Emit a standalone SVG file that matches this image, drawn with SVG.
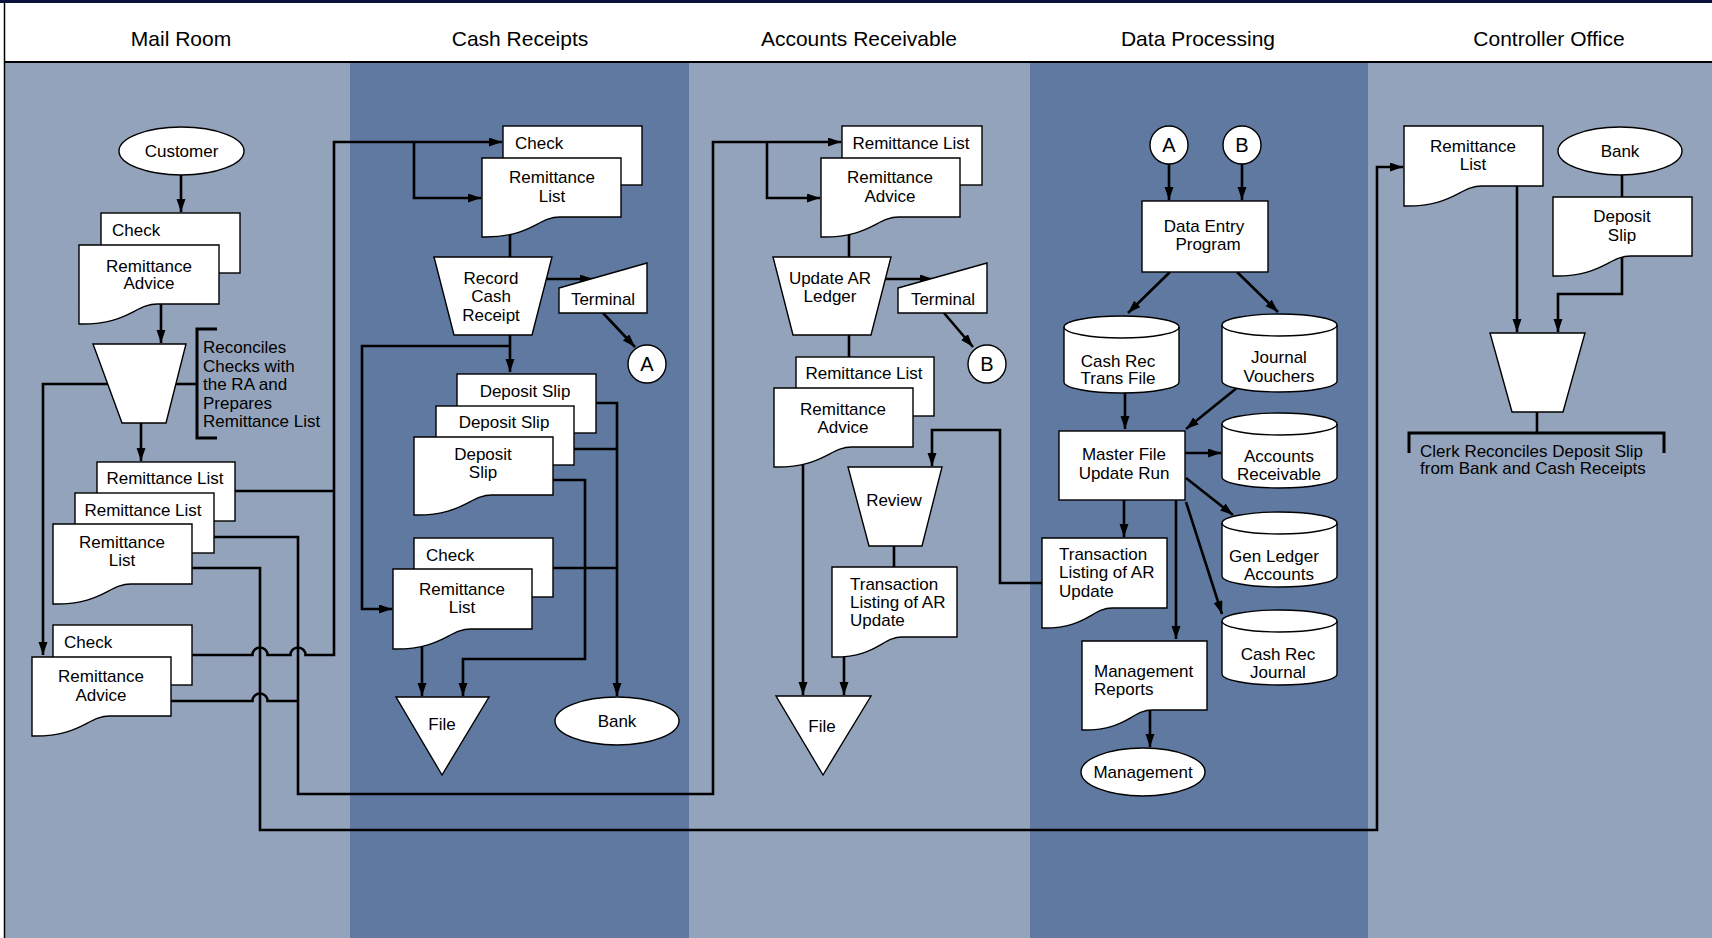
<svg xmlns="http://www.w3.org/2000/svg" width="1712" height="938" viewBox="0 0 1712 938">
<defs>
<style>
.ll{fill:#94a3bc}
.ld{fill:#5f79a0}
.s{fill:#fff;stroke:#000;stroke-width:1.4}
.e{fill:none;stroke:#000;stroke-width:1.4}
.c{fill:none;stroke:#000;stroke-width:2.6}
.br{fill:none;stroke:#000;stroke-width:3}
text{font-family:"Liberation Sans",Arial,Helvetica,sans-serif;font-size:17px;fill:#000}
.m{text-anchor:middle}
.h{font-size:21px;text-anchor:middle}
.L{font-size:20px;text-anchor:middle}
</style>
<marker id="ah" markerUnits="userSpaceOnUse" markerWidth="14" markerHeight="10" refX="13" refY="4.5" orient="auto"><path d="M0,0 L13,4.5 L0,9 z" fill="#000"/></marker>
</defs>
<rect x="0" y="0" width="1712" height="938" fill="#fff"/>
<g id="lanes">
<rect class="ll" x="5" y="63" width="345" height="875"/>
<rect class="ld" x="350" y="63" width="339" height="875"/>
<rect class="ll" x="689" y="63" width="341" height="875"/>
<rect class="ld" x="1030" y="63" width="338" height="875"/>
<rect class="ll" x="1368" y="63" width="344" height="875"/>
<rect x="0" y="0" width="1712" height="3" fill="#0b103c"/>
<line x1="4" y1="62" x2="1712" y2="62" stroke="#000" stroke-width="2.2"/>
<line x1="4.5" y1="3" x2="4.5" y2="938" stroke="#000" stroke-width="1.5"/>
<text class="h" x="181" y="46">Mail Room</text>
<text class="h" x="520" y="46">Cash Receipts</text>
<text class="h" x="859" y="46">Accounts Receivable</text>
<text class="h" x="1198" y="46">Data Processing</text>
<text class="h" x="1549" y="46">Controller Office</text>
</g>
<g id="connectors">
<path class="c" d="M181,175 V212" marker-end="url(#ah)"/>
<path class="c" d="M161,304 V343" marker-end="url(#ah)"/>
<path class="c" d="M176,384 H197"/>
<path class="br" d="M217,329 H197 V438 H217"/>
<path class="c" d="M108,384 H43 V655" marker-end="url(#ah)"/>
<path class="c" d="M141,423 V461" marker-end="url(#ah)"/>
<path class="c" d="M235,491 H334"/>
<path class="c" d="M192,655 H252.5 A7.5,7.5 0 0 1 267.5,655 H290.5 A7.5,7.5 0 0 1 305.5,655 H334 V142 H502" marker-end="url(#ah)"/>
<path class="c" d="M414,142 V198 H481" marker-end="url(#ah)"/>
<path class="c" d="M214,537 H298 V794 H713 V142 H841" marker-end="url(#ah)"/>
<path class="c" d="M767,142 V198 H820" marker-end="url(#ah)"/>
<path class="c" d="M171,701 H252.5 A7.5,7.5 0 0 1 267.5,701 H298"/>
<path class="c" d="M192,568 H260 V830 H1377 V167 H1403" marker-end="url(#ah)"/>
<path class="c" d="M510,234 V257"/>
<path class="c" d="M546,279 H593" marker-end="url(#ah)"/>
<path class="c" d="M603,313 L635,347" marker-end="url(#ah)"/>
<path class="c" d="M510,335 V372" marker-end="url(#ah)"/>
<path class="c" d="M510,346 H362 V609 H392" marker-end="url(#ah)"/>
<path class="c" d="M596,403 H617 V696" marker-end="url(#ah)"/>
<path class="c" d="M574,449 H617"/>
<path class="c" d="M553,568 H617"/>
<path class="c" d="M553,480 H585 V659 H463 V696" marker-end="url(#ah)"/>
<path class="c" d="M422,646 V696" marker-end="url(#ah)"/>
<path class="c" d="M849,234 V257"/>
<path class="c" d="M885,279 H933" marker-end="url(#ah)"/>
<path class="c" d="M944,313 L973,347" marker-end="url(#ah)"/>
<path class="c" d="M849,335 V357"/>
<path class="c" d="M803,464 V695" marker-end="url(#ah)"/>
<path class="c" d="M1042,583 H1000 V430 H932 V466" marker-end="url(#ah)"/>
<path class="c" d="M894,546 V567"/>
<path class="c" d="M844,655 V695" marker-end="url(#ah)"/>
<path class="c" d="M1169,164 V200" marker-end="url(#ah)"/>
<path class="c" d="M1242,164 V200" marker-end="url(#ah)"/>
<path class="c" d="M1170,272 L1128,313" marker-end="url(#ah)"/>
<path class="c" d="M1237,272 L1278,312" marker-end="url(#ah)"/>
<path class="c" d="M1125,393 V429" marker-end="url(#ah)"/>
<path class="c" d="M1238,387 L1186,429" marker-end="url(#ah)"/>
<path class="c" d="M1185,453 H1221" marker-end="url(#ah)"/>
<path class="c" d="M1186,478 L1233,515" marker-end="url(#ah)"/>
<path class="c" d="M1186,502 L1222,614" marker-end="url(#ah)"/>
<path class="c" d="M1124,500 V537" marker-end="url(#ah)"/>
<path class="c" d="M1176,500 V639" marker-end="url(#ah)"/>
<path class="c" d="M1150,710 V747" marker-end="url(#ah)"/>
<path class="c" d="M1517,186 V332" marker-end="url(#ah)"/>
<path class="c" d="M1622,175 V197"/>
<path class="c" d="M1622,256 V294 H1558 V332" marker-end="url(#ah)"/>
<path class="c" d="M1537,412 V433"/>
<path class="br" d="M1409,453 V433 H1664 V453"/>
</g>
<g id="mr-customer"><ellipse class="s" cx="181.5" cy="151" rx="62.5" ry="24"/><text class="m" x="181.5" y="157">Customer</text></g>
<g id="mr-check1"><rect class="s" x="101" y="213" width="139" height="60"/><text x="112" y="236">Check</text></g>
<g id="mr-ra1"><path class="s" d="M79,245 H219 V304 H157.4 C135,304 128,325 79,324 Z"/><text class="m" x="149" y="272">Remittance</text><text class="m" x="149" y="289">Advice</text></g>
<g id="mr-reconcile"><path class="s" d="M93,344 H186 L166,423 H122 Z"/><text x="203" y="353">Reconciles</text><text x="203" y="371.5">Checks with</text><text x="203" y="390">the RA and</text><text x="203" y="408.5">Prepares</text><text x="203" y="427">Remittance List</text></g>
<g id="mr-rl1"><rect class="s" x="97" y="462" width="138" height="59"/><text class="m" x="165" y="484">Remittance List</text></g>
<g id="mr-rl2"><rect class="s" x="75" y="493" width="139" height="60"/><text class="m" x="143" y="516">Remittance List</text></g>
<g id="mr-rl3"><path class="s" d="M53,524 H192 V584 H130.8 C108.6,584 101.7,605 53,604 Z"/><text class="m" x="122" y="548">Remittance</text><text class="m" x="122" y="566">List</text></g>
<g id="mr-check2"><rect class="s" x="53" y="625" width="139" height="60"/><text x="64" y="648">Check</text></g>
<g id="mr-ra2"><path class="s" d="M32,657 H171 V716 H109.8 C87.6,716 80.7,737 32,736 Z"/><text class="m" x="101" y="682">Remittance</text><text class="m" x="101" y="701">Advice</text></g>
<g id="cr-check1"><rect class="s" x="503" y="126" width="139" height="59"/><text x="515" y="149">Check</text></g>
<g id="cr-rl1"><path class="s" d="M482,158 H621 V217 H559.8 C537.6,217 530.7,238 482,237 Z"/><text class="m" x="552" y="183">Remittance</text><text class="m" x="552" y="202">List</text></g>
<g id="cr-record"><path class="s" d="M434,257 H552 L532,335 H454 Z"/><text class="m" x="491" y="284">Record</text><text class="m" x="491" y="302">Cash</text><text class="m" x="491" y="321">Receipt</text></g>
<g id="cr-terminal"><path class="s" d="M559,288 L647,263 V313 H559 Z"/><text class="m" x="603" y="305">Terminal</text></g>
<g id="cr-a"><circle class="s" cx="647" cy="364" r="19"/><text class="L" x="647" y="371">A</text></g>
<g id="cr-ds1"><rect class="s" x="457" y="374" width="139" height="59"/><text class="m" x="525" y="397">Deposit Slip</text></g>
<g id="cr-ds2"><rect class="s" x="436" y="406" width="138" height="59"/><text class="m" x="504" y="428">Deposit Slip</text></g>
<g id="cr-ds3"><path class="s" d="M414,437 H553 V495 H491.8 C469.6,495 462.7,516 414,515 Z"/><text class="m" x="483" y="460">Deposit</text><text class="m" x="483" y="478">Slip</text></g>
<g id="cr-check2"><rect class="s" x="414" y="538" width="139" height="59"/><text x="426" y="561">Check</text></g>
<g id="cr-rl2"><path class="s" d="M393,569 H532 V629 H470.8 C448.6,629 441.7,650 393,649 Z"/><text class="m" x="462" y="595">Remittance</text><text class="m" x="462" y="613">List</text></g>
<g id="cr-file"><path class="s" d="M396,697 H489 L442,775 Z"/><text class="m" x="442" y="730">File</text></g>
<g id="cr-bank"><ellipse class="s" cx="617" cy="721" rx="62" ry="24"/><text class="m" x="617" y="727">Bank</text></g>
<g id="ar-rl1"><rect class="s" x="842" y="126" width="140" height="59"/><text class="m" x="911" y="149">Remittance List</text></g>
<g id="ar-ra1"><path class="s" d="M821,158 H960 V217 H898.8 C876.6,217 869.7,238 821,237 Z"/><text class="m" x="890" y="183">Remittance</text><text class="m" x="890" y="202">Advice</text></g>
<g id="ar-update"><path class="s" d="M773,257 H891 L871,335 H793 Z"/><text class="m" x="830" y="284">Update AR</text><text class="m" x="830" y="302">Ledger</text></g>
<g id="ar-terminal"><path class="s" d="M898,288 L987,263 V313 H898 Z"/><text class="m" x="943" y="305">Terminal</text></g>
<g id="ar-b"><circle class="s" cx="987" cy="364" r="19"/><text class="L" x="987" y="371">B</text></g>
<g id="ar-rl2"><rect class="s" x="796" y="357" width="138" height="59"/><text class="m" x="864" y="379">Remittance List</text></g>
<g id="ar-ra2"><path class="s" d="M774,388 H913 V447 H851.8 C829.6,447 822.7,468 774,467 Z"/><text class="m" x="843" y="415">Remittance</text><text class="m" x="843" y="433">Advice</text></g>
<g id="ar-review"><path class="s" d="M848,467 H942 L922,546 H869 Z"/><text class="m" x="894" y="506">Review</text></g>
<g id="ar-tl"><path class="s" d="M832,567 H957 V637 H902 C882,637 875.8,658 832,657 Z"/><text x="850" y="590">Transaction</text><text x="850" y="608">Listing of AR</text><text x="850" y="626">Update</text></g>
<g id="ar-file"><path class="s" d="M776,696 H871 L823,775 Z"/><text class="m" x="822" y="732">File</text></g>
<g id="dp-a"><circle class="s" cx="1169" cy="145" r="19"/><text class="L" x="1169" y="152">A</text></g>
<g id="dp-b"><circle class="s" cx="1242" cy="145" r="19"/><text class="L" x="1242" y="152">B</text></g>
<g id="dp-entry"><rect class="s" x="1142" y="201" width="126" height="71"/><text class="m" x="1204" y="232">Data Entry</text><text class="m" x="1208" y="250">Program</text></g>
<g id="dp-crtf"><path class="s" d="M1064,327 A57.5,11 0 0 1 1179,327 V382 A57.5,11 0 0 1 1064,382 Z"/><path class="e" d="M1064,327 A57.5,11 0 0 0 1179,327"/><text class="m" x="1118" y="367">Cash Rec</text><text class="m" x="1118" y="384">Trans File</text></g>
<g id="dp-jv"><path class="s" d="M1222,325 A57.5,11 0 0 1 1337,325 V381 A57.5,11 0 0 1 1222,381 Z"/><path class="e" d="M1222,325 A57.5,11 0 0 0 1337,325"/><text class="m" x="1279" y="363">Journal</text><text class="m" x="1279" y="382">Vouchers</text></g>
<g id="dp-mfur"><rect class="s" x="1059" y="431" width="126" height="69"/><text class="m" x="1124" y="460">Master File</text><text class="m" x="1124" y="479">Update Run</text></g>
<g id="dp-ar"><path class="s" d="M1222,424 A57.5,11 0 0 1 1337,424 V477 A57.5,11 0 0 1 1222,477 Z"/><path class="e" d="M1222,424 A57.5,11 0 0 0 1337,424"/><text class="m" x="1279" y="462">Accounts</text><text class="m" x="1279" y="480">Receivable</text></g>
<g id="dp-gla"><path class="s" d="M1222,523 A57.5,11 0 0 1 1337,523 V576 A57.5,11 0 0 1 1222,576 Z"/><path class="e" d="M1222,523 A57.5,11 0 0 0 1337,523"/><text class="m" x="1274" y="562">Gen Ledger</text><text class="m" x="1279" y="580">Accounts</text></g>
<g id="dp-crj"><path class="s" d="M1222,621 A57.5,11 0 0 1 1337,621 V674 A57.5,11 0 0 1 1222,674 Z"/><path class="e" d="M1222,621 A57.5,11 0 0 0 1337,621"/><text class="m" x="1278" y="660">Cash Rec</text><text class="m" x="1278" y="678">Journal</text></g>
<g id="dp-tl"><path class="s" d="M1042,538 H1167 V608 H1112 C1092,608 1085.8,629 1042,628 Z"/><text x="1059" y="560">Transaction</text><text x="1059" y="578">Listing of AR</text><text x="1059" y="597">Update</text></g>
<g id="dp-mr"><path class="s" d="M1082,641 H1207 V710 H1152 C1132,710 1125.8,731 1082,730 Z"/><text x="1094" y="677">Management</text><text x="1094" y="695">Reports</text></g>
<g id="dp-mgmt"><ellipse class="s" cx="1143" cy="772" rx="62" ry="24"/><text class="m" x="1143" y="778">Management</text></g>
<g id="co-rl"><path class="s" d="M1404,126 H1543 V186 H1481.8 C1459.6,186 1452.7,207 1404,206 Z"/><text class="m" x="1473" y="152">Remittance</text><text class="m" x="1473" y="170">List</text></g>
<g id="co-bank"><ellipse class="s" cx="1620" cy="151" rx="62" ry="24"/><text class="m" x="1620" y="157">Bank</text></g>
<g id="co-ds"><path class="s" d="M1553,197 H1692 V256 H1630.8 C1608.6,256 1601.7,277 1553,276 Z"/><text class="m" x="1622" y="222">Deposit</text><text class="m" x="1622" y="241">Slip</text></g>
<g id="co-reconcile"><path class="s" d="M1490,333 H1585 L1563,412 H1512 Z"/><text x="1420" y="457">Clerk Reconciles Deposit Slip</text><text x="1420" y="474">from Bank and Cash Receipts</text></g>
</svg>
